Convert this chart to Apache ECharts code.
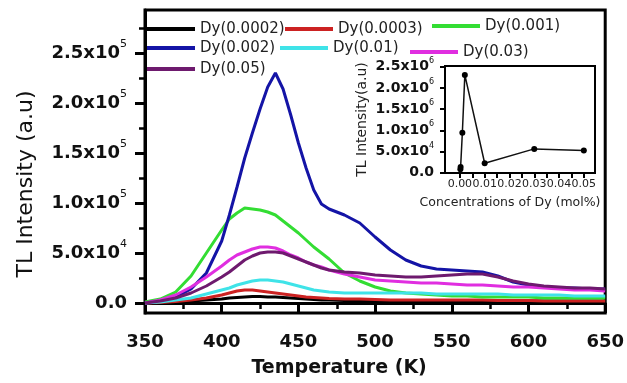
<!DOCTYPE html>
<html>
<head>
<meta charset="utf-8">
<script src="https://cdn.jsdelivr.net/npm/echarts@6/dist/echarts.min.js"></script>
<style>
html,body{margin:0;padding:0;background:#fff;}
#c{width:627px;height:383px;}
</style>
</head>
<body>
<div id="c"></div>
<script>
// ---- Data ----
const temperatures = [350,360,370,380,390,400,405,410,415,420,425,430,435,440,445,450,455,460,465,470,480,490,500,510,520,530,540,550,560,570,580,590,600,610,620,630,640,650];

const dy0002 = [0,500,1000,2000,3000,4000,5000,5500,6000,6500,6500,6000,6000,5500,5000,4500,4000,3500,3000,3000,2500,2500,2000,2000,2000,2000,2000,2000,2000,2000,2000,2000,2000,2000,2000,2000,2000,2000];
const dy0003 = [0,500,1500,3000,5000,8000,10000,12000,13000,13000,12000,11000,10000,9000,8000,7000,6000,5500,5000,4500,4000,4000,3500,3000,3000,3000,3000,3000,3000,3000,2500,2500,2500,2000,2000,2000,2000,2000];
const dy001 = [1000,4000,11000,27000,50000,73000,84000,90000,95000,94000,93000,91000,88000,82000,76000,70000,63000,56000,50000,44000,30000,22000,16000,12000,10000,9000,8000,7000,7000,6000,6000,6000,6000,5000,5000,5000,5000,5000];
const dy002 = [0,2000,6000,14000,30000,62000,88000,116000,145000,170000,194000,216000,230000,214000,188000,160000,135000,113000,99000,94000,88000,80000,66000,53000,43000,37000,34000,33000,32000,31000,27000,21000,18000,16000,15000,15000,14000,14000];
const dy01 = [0,1000,3000,5000,9000,13000,15000,18000,20000,22000,23000,23000,22000,21000,19000,17000,15000,13000,12000,11000,10000,10000,10000,10000,10000,10000,9000,9000,9000,9000,9000,8000,8000,8000,8000,7000,7000,7000];
const dy03 = [0,3000,8000,16000,26000,37000,43000,48000,51000,54000,56000,56000,55000,52000,48000,45000,41000,38000,36000,33000,29000,26000,23000,22000,21000,20000,20000,19000,18000,18000,17000,16000,16000,15000,14000,13000,13000,12000];
const dy05 = [0,2000,5000,10000,17000,26000,31000,37000,43000,47000,50000,51000,51000,50000,47000,44000,41000,38000,35000,33000,31000,30000,28000,27000,26000,26000,27000,28000,29000,29000,26000,22000,19000,17000,16000,15000,15000,14000];

const seriesNames = ['Dy(0.0002)','Dy(0.0003)','Dy(0.001)','Dy(0.002)','Dy(0.01)','Dy(0.03)','Dy(0.05)'];
const seriesValues = [dy0002, dy0003, dy001, dy002, dy01, dy03, dy05];
const seriesColors = ['#000000','#cc2222','#33dd33','#1414a6','#3fe3e8','#e02ee0','#6e1a6e'];

// inset: peak TL intensity vs concentration
const insetConcentrations = [0.0002, 0.0003, 0.001, 0.002, 0.01, 0.03, 0.05];
const insetIntensities = [8000, 13000, 94000, 231000, 22000, 56000, 52000];

// tick labels
const yTickValues = [0,50000,100000,150000,200000,250000];
const yTickLabels = ['0.0','5.0x10^4','1.0x10^5','1.5x10^5','2.0x10^5','2.5x10^5'];
const yMinorTickValues = [25000,75000,125000,175000,225000,275000];
const insetXTickValues = [0,0.01,0.02,0.03,0.04,0.05];
const insetXTickLabels = ['0.00','0.01','0.02','0.03','0.04','0.05'];
const insetXMinorValues = [0,0.005,0.01,0.015,0.02,0.025,0.03,0.035,0.04,0.045,0.05];
const insetYTickValues = [0,50000,100000,150000,200000,250000];
const insetYTickLabels = ['0.0','5.0x10^4','1.0x10^6','1.5x10^6','2.0x10^6','2.5x10^6'];

// ---- Chart ----
const FONT = 'DejaVu Sans';
function richLabel(lbl){
  const p = lbl.split('^');
  if (p.length === 1) return '{m|' + p[0] + '}';
  return '{m|' + p[0] + '}{s|' + p[1] + '}';
}
function lookup(values, labels){
  return function(v){
    for (let i=0;i<values.length;i++){ if (Math.abs(values[i]-v) < 1e-9*Math.max(1,Math.abs(v))+1e-12) return richLabel(labels[i]); }
    return '';
  };
}

const legendPos = [
  {left:147, top:21},
  {left:285, top:21},
  {left:432, top:18},
  {left:147, top:40},
  {left:280, top:40},
  {left:410, top:44},
  {left:147, top:61}
];

const legends = seriesNames.map((n,i)=>({
  data:[n], left:legendPos[i].left, top:legendPos[i].top,
  padding:0, itemWidth:48, itemHeight:4, icon:'rect', selectedMode:false,
  textStyle:{fontFamily:FONT, fontSize:15, color:'#222', lineHeight:16}
}));

const mainSeries = seriesNames.map((n,i)=>({
  name:n, type:'line', xAxisIndex:0, yAxisIndex:0,
  data: temperatures.map((t,k)=>[t, seriesValues[i][k]]),
  showSymbol:false, symbol:'none', smooth:false,
  lineStyle:{color:seriesColors[i], width:3},
  itemStyle:{color:seriesColors[i]},
  animation:false, z: 2
}));

const option = {
  backgroundColor:'#ffffff',
  animation:false,
  legend: legends,
  grid:[
    {left:145, right:17, top:10, bottom:70, show:true, borderColor:'#000', borderWidth:3, backgroundColor:'transparent'},
    {left:445, width:150, top:66, height:107, show:true, borderColor:'#000', borderWidth:2, backgroundColor:'#fff', z:5}
  ],
  xAxis:[
    {type:'value', gridIndex:0, min:350, max:650, interval:50,
     name:'Temperature (K)', nameLocation:'middle', nameGap:46,
     nameTextStyle:{fontFamily:FONT, fontWeight:'bold', fontSize:19, color:'#111', padding:[0,72,0,0]},
     axisLine:{show:true, lineStyle:{color:'#000', width:3}},
     axisTick:{show:true, inside:false, length:10, lineStyle:{color:'#000', width:3}},
     minorTick:{show:true, splitNumber:2, length:6, lineStyle:{color:'#000', width:2.5}},
     axisLabel:{margin:20, fontFamily:FONT, fontWeight:'bold', fontSize:18, color:'#111'},
     splitLine:{show:false}},
    {type:'value', gridIndex:1, min:-0.006, max:0.0545,
     name:'Concentrations of Dy (mol%)', nameLocation:'middle', nameGap:23,
     nameTextStyle:{fontFamily:FONT, fontSize:12.5, color:'#222', padding:[0,20,0,0]},
     axisLine:{show:true, onZero:false, lineStyle:{color:'#000', width:2}},
     axisTick:{show:true, length:5, customValues:insetXMinorValues, lineStyle:{color:'#000', width:2}},
     axisLabel:{show:true, margin:6, customValues:insetXTickValues,
       formatter:function(v){ for(let i=0;i<insetXTickValues.length;i++){ if(Math.abs(insetXTickValues[i]-v)<1e-9) return insetXTickLabels[i]; } return ''; },
       fontFamily:FONT, fontSize:11, color:'#222'},
     splitLine:{show:false}}
  ],
  yAxis:[
    {type:'value', gridIndex:0, position:'left', min:-10000, max:293000,
     name:'TL Intensity (a.u)', nameLocation:'middle', nameGap:108,
     nameTextStyle:{fontFamily:FONT, fontSize:22, color:'#111', padding:[0,45,0,0]},
     axisLine:{show:true, onZero:false, lineStyle:{color:'#000', width:3}},
     axisTick:{show:true, length:10, customValues:yTickValues, lineStyle:{color:'#000', width:3}},
     axisLabel:{show:true, margin:18, customValues:yTickValues, formatter:lookup(yTickValues, yTickLabels),
       rich:{
         m:{fontFamily:FONT, fontWeight:'bold', fontSize:18, color:'#111', lineHeight:28},
         s:{fontFamily:FONT, fontSize:11, color:'#111', lineHeight:8, verticalAlign:'top'}
       }},
     splitLine:{show:false}},
    {type:'value', gridIndex:0, position:'left', offset:0, min:-10000, max:293000,
     axisLine:{show:false, onZero:false},
     axisTick:{show:true, length:6, customValues:yMinorTickValues, lineStyle:{color:'#000', width:2.5}},
     axisLabel:{show:false},
     splitLine:{show:false}},
    {type:'value', gridIndex:1, position:'left', min:-1000, max:252000,
     name:'TL Intensity(a.u)', nameLocation:'middle', nameGap:76,
     nameTextStyle:{fontFamily:FONT, fontSize:14, color:'#222'},
     axisLine:{show:true, onZero:false, lineStyle:{color:'#000', width:2}},
     axisTick:{show:true, length:5, customValues:insetYTickValues, lineStyle:{color:'#000', width:2}},
     axisLabel:{show:true, margin:11, customValues:insetYTickValues, formatter:lookup(insetYTickValues, insetYTickLabels),
       rich:{
         m:{fontFamily:FONT, fontWeight:'bold', fontSize:14, color:'#111', lineHeight:20},
         s:{fontFamily:FONT, fontSize:8, color:'#111', lineHeight:6, verticalAlign:'top'}
       }},
     splitLine:{show:false}}
  ],
  series: mainSeries.concat([{
    name:'inset', type:'line', xAxisIndex:1, yAxisIndex:2,
    data: insetConcentrations.map((c,k)=>[c, insetIntensities[k]]),
    symbol:'circle', symbolSize:6, showSymbol:true,
    lineStyle:{color:'#111', width:1.5}, itemStyle:{color:'#000'},
    z:10, animation:false
  }])
};

const chart = echarts.init(document.getElementById('c'), null, {renderer:'canvas'});
chart.setOption(option);
</script>
</body>
</html>
